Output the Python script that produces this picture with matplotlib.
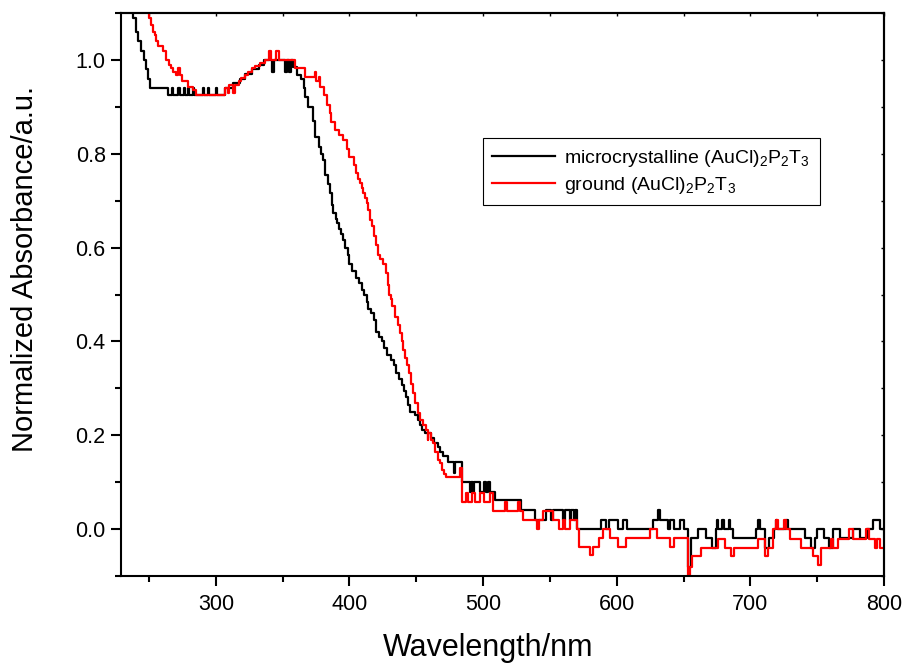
import matplotlib
matplotlib.use("Agg")
import matplotlib.pyplot as plt
from matplotlib.ticker import MultipleLocator, FormatStrFormatter

plt.rcParams['font.family'] = ['Liberation Sans', 'DejaVu Sans']
plt.rcParams['mathtext.fontset'] = 'custom'
plt.rcParams['mathtext.rm'] = 'Liberation Sans'
plt.rcParams['mathtext.it'] = 'Liberation Sans'

# ---- data (wavelength in nm, normalized absorbance), step change points ----
wl_micro = [229, 233, 236, 238, 240, 242, 244, 246, 248, 249.5, 251,
            264, 267, 268, 272, 273, 276, 277, 279, 280, 283, 284, 290, 291,
            294, 295, 300, 301, 305,
            307, 313, 318, 322, 327, 332, 336, 342, 343.5, 352, 353, 355, 356,
            358, 361, 364, 366, 367, 369, 373, 374, 377, 379, 380, 382, 384,
            385.5, 387, 388, 390, 391, 392, 394, 395, 397, 399, 400, 402, 405,
            407, 409, 411, 413, 414, 416, 418, 420, 422, 424, 426, 428, 431,
            433, 435, 437, 439, 441, 442.5, 444, 445.5, 449, 451, 452.5, 454.5,
            456.5, 461, 463, 466, 467.5, 470, 473.5, 478, 479, 484, 490, 491,
            492.5, 493.5, 497.5, 501, 502, 504, 505, 509, 528.5, 538.5, 547,
            551, 552, 560, 561, 565, 566, 568, 569, 570, 588.5, 592, 594.5,
            601, 605, 608, 627, 631, 632, 638, 640, 643, 647, 650, 653, 655.8,
            660.8, 667, 671, 674.5, 675, 676, 679, 680, 684, 685, 687, 704,
            706, 707, 711, 714, 718, 719, 720, 727, 728, 741, 745, 748, 750,
            755, 759, 762, 767, 777, 782, 787, 792, 797, 800]
abs_micro = [1.25, 1.17, 1.12, 1.09, 1.06, 1.04, 1.02, 1.00, 0.98, 0.96, 0.94,
             0.925, 0.94, 0.925, 0.94, 0.925, 0.94, 0.925, 0.94, 0.925, 0.94, 0.925, 0.94, 0.925,
             0.94, 0.925, 0.94, 0.925, 0.925,
             0.94, 0.95, 0.96, 0.97, 0.98, 0.99, 1.0, 0.975, 1.0, 0.975, 1.0, 0.975, 1.0,
             0.985, 0.968, 0.96, 0.94, 0.922, 0.90, 0.87, 0.836, 0.815, 0.80, 0.787, 0.755, 0.735,
             0.716, 0.69, 0.673, 0.66, 0.652, 0.64, 0.63, 0.616, 0.60, 0.585, 0.565, 0.55, 0.535,
             0.524, 0.51, 0.50, 0.485, 0.47, 0.46, 0.445, 0.42, 0.41, 0.40, 0.385, 0.37, 0.36,
             0.35, 0.333, 0.32, 0.307, 0.295, 0.282, 0.265, 0.25, 0.243, 0.232, 0.222, 0.212,
             0.204, 0.195, 0.183, 0.175, 0.165, 0.155, 0.143, 0.12, 0.143, 0.101, 0.08, 0.101,
             0.08, 0.101, 0.08, 0.10, 0.08, 0.10, 0.08, 0.062, 0.04, 0.02, 0.04,
             0.02, 0.04, 0.02, 0.04, 0.02, 0.04, 0.02, 0.04, 0.0, 0.02, 0.0, 0.02,
             0.0, 0.02, 0.0, 0.02, 0.04, 0.02, 0.0, 0.02, 0.0, 0.02, 0.0, -0.08, -0.02,
             0.0, -0.02, -0.04, 0.0, 0.02, 0.0, 0.02, 0.0, 0.02, 0.0, -0.02, 0.0,
             0.02, 0.0, -0.04, -0.02, 0.0, 0.02, 0.0, 0.02, 0.0, -0.02, -0.04, -0.02, 0.0,
             -0.02, -0.04, 0.0, -0.02, 0.0, -0.02, 0.0, 0.02, 0.0, 0.0]

wl_ground = [229, 245, 248, 250, 251.7, 253, 254.2, 255.5, 256.7, 260.4, 262.9,
             265, 266.6, 268, 270.4, 272, 273, 275, 279, 282.9, 285,
             306.5, 309, 310, 313, 314, 317, 319, 322, 324, 327, 329, 333, 336.5,
             340, 341.5, 345, 347, 359, 362, 366.5, 374, 375, 377, 378, 381,
             383.5, 385.5, 386.5, 389, 392, 395.5, 398.5, 399.5, 403.5, 405,
             406.5, 407.8, 409, 410.2, 411.5, 412.8, 414, 415.2, 417, 418.5,
             420, 421.5, 423, 425, 427, 428.5, 429.5, 431, 432, 434, 436, 437.5,
             439, 440.3, 441.5, 443, 444.5, 446, 447.5, 449, 451, 453, 455, 457,
             458.5, 459, 461, 462.5, 464, 466, 468, 469.5, 471, 472.5, 483,
             484.5, 487, 488.5, 492, 494, 497.5, 501, 505, 507.5, 516, 517.5,
             526, 527.5, 530, 540.5, 542, 545, 552, 557, 560, 561, 565, 570,
             572, 580, 582, 587, 590, 595, 601, 607, 612, 625, 630, 640, 643,
             653, 655, 656.6, 663, 675.8, 680.8, 685.8, 688, 705.7, 710.7, 713,
             717, 719, 721, 725, 727, 729.5, 738, 746.8, 750.6, 753, 760, 762,
             765.5, 774, 776.5, 786.5, 789, 793, 794.5, 797, 800]
abs_ground = [1.35, 1.15, 1.11, 1.09, 1.075, 1.06, 1.053, 1.04, 1.03, 1.018, 1.0,
              0.99, 0.982, 0.975, 0.968, 0.982, 0.968, 0.955, 0.943, 0.936, 0.925,
              0.94, 0.93, 0.947, 0.93, 0.947, 0.955, 0.961, 0.968, 0.975, 0.982, 0.986, 0.993, 1.0,
              1.018, 1.0, 1.018, 1.0, 0.982, 0.982, 0.964, 0.975, 0.955, 0.964, 0.943, 0.925,
              0.904, 0.886, 0.868, 0.851, 0.84, 0.829, 0.81, 0.794, 0.775, 0.758,
              0.747, 0.737, 0.727, 0.716, 0.705, 0.694, 0.68, 0.659, 0.645, 0.625,
              0.605, 0.584, 0.575, 0.566, 0.545, 0.52, 0.50, 0.49, 0.475, 0.453, 0.435, 0.418,
              0.40, 0.382, 0.365, 0.35, 0.332, 0.31, 0.29, 0.268, 0.247, 0.232, 0.222, 0.212,
              0.19, 0.204, 0.19, 0.183, 0.165, 0.147, 0.14, 0.126, 0.118, 0.111, 0.13,
              0.058, 0.076, 0.058, 0.076, 0.058, 0.076, 0.058, 0.076, 0.038, 0.058, 0.038,
              0.058, 0.038, 0.019, 0.0, 0.019, 0.038, 0.019, 0.0, 0.019, 0.0, 0.019, 0.0,
              -0.038, -0.056, -0.038, -0.02, 0.0, -0.02, -0.038, -0.02, -0.02, 0.0, -0.02, -0.038, -0.02,
              -0.12, -0.08, -0.057, -0.041, -0.022, -0.041, -0.057, -0.041, -0.022, -0.057, -0.041,
              0.0, 0.02, 0.0, 0.02, 0.0, -0.022, -0.041, -0.057, -0.077, -0.041, -0.022, -0.041,
              -0.022, 0.0, -0.022, 0.0, -0.022, -0.041, -0.022, -0.041, -0.041]

label_micro = r'microcrystalline (AuCl)$_2$P$_2$T$_3$'
label_ground = r'ground (AuCl)$_2$P$_2$T$_3$'

fig = plt.figure(figsize=(9.04, 6.65), dpi=100)
ax = fig.add_axes([121/904, 89/665, 763/904, 563/665])

ax.plot(wl_micro, abs_micro, color='black', lw=1.6, drawstyle='steps-post', label=label_micro)
ax.plot(wl_ground, abs_ground, color='red', lw=1.6, drawstyle='steps-post', label=label_ground)

ax.set_xlim(229, 800)
ax.set_ylim(-0.1, 1.1)
ax.xaxis.set_major_locator(MultipleLocator(100))
ax.xaxis.set_minor_locator(MultipleLocator(50))
ax.yaxis.set_major_locator(MultipleLocator(0.2))
ax.yaxis.set_minor_locator(MultipleLocator(0.1))
ax.yaxis.set_major_formatter(FormatStrFormatter('%.1f'))

for s in ax.spines.values():
    s.set_linewidth(1.5)
ax.tick_params(which='major', direction='out', length=7, width=1.5, labelsize=15.5, pad=4)
ax.tick_params(which='minor', direction='out', length=4, width=1.5)
ax.tick_params(axis='x', which='major', pad=6)

sec_x = ax.secondary_xaxis('top')
sec_x.xaxis.set_major_locator(MultipleLocator(50))
sec_x.tick_params(direction='in', length=2, width=1, labeltop=False)
sec_x.spines['top'].set_linewidth(1.5)
sec_y = ax.secondary_yaxis('right')
sec_y.yaxis.set_major_locator(MultipleLocator(0.1))
sec_y.tick_params(direction='in', length=2, width=1, labelright=False)
sec_y.spines['right'].set_linewidth(1.5)

ax.set_xlabel('Wavelength/nm', fontsize=22)
ax.set_ylabel('Normalized Absorbance/a.u.', fontsize=21)
ax.xaxis.set_label_coords(0.481, -0.127, transform=ax.transAxes)
ax.yaxis.set_label_coords(-0.126, 0.545, transform=ax.transAxes)
ax.xaxis.label.set_va('center')
ax.yaxis.label.set_va('center')

leg = ax.legend(loc='upper left', bbox_to_anchor=(0.474, 0.778), borderaxespad=0,
                fontsize=14, frameon=True, fancybox=False, framealpha=1,
                edgecolor='black', handlelength=3.2, handletextpad=0.5,
                borderpad=0.5, labelspacing=0.3)
leg.get_frame().set_linewidth(0.8)

fig.savefig('out.png', dpi=100)
